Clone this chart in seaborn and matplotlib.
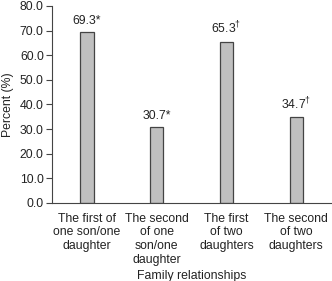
import matplotlib
matplotlib.use("Agg")
import matplotlib.pyplot as plt
import seaborn as sns
import pandas as pd

# data
categories = [
    "The first of\none son/one\ndaughter",
    "The second\nof one\nson/one\ndaughter",
    "The first\nof two\ndaughters",
    "The second\nof two\ndaughters",
]
percents = [69.3, 30.7, 65.3, 34.7]
marks = ["*", "*", r"$^{\dagger}$", r"$^{\dagger}$"]
y_ticks = [0, 10, 20, 30, 40, 50, 60, 70, 80]

sns.set_style("white")
plt.rcParams["font.family"] = ["Liberation Sans", "DejaVu Sans"]
plt.rcParams["mathtext.fontset"] = "custom"
plt.rcParams["mathtext.rm"] = "Liberation Sans"

df = pd.DataFrame({"relationship": categories, "percent": percents})

fig = plt.figure(figsize=(3.32, 2.81), dpi=100)
ax = fig.add_axes([0.157, 0.278, 0.840, 0.701])

sns.barplot(data=df, x="relationship", y="percent", color="#c0c0c0",
            saturation=1, width=0.19, edgecolor="#444444", linewidth=0.9, ax=ax)

labels = [f"{v:.1f}{m}" for v, m in zip(percents, marks)]
ax.bar_label(ax.containers[0], labels=labels, padding=4, fontsize=8.8, color="#222222")

ax.set_xlim(-0.5, 3.5)
ax.set_ylim(0, 80)
ax.set_yticks(y_ticks)
ax.set_yticklabels([f"{t:.1f}" for t in y_ticks], fontsize=8.8, color="#222222")
ax.set_xticks(range(len(categories)))
ax.set_xticklabels(categories, fontsize=8.8, color="#222222", linespacing=1.2)
ax.set_xticks([0.5, 1.5, 2.5, 3.5], minor=True)
ax.tick_params(axis="x", which="major", length=0, pad=7)
ax.tick_params(axis="x", which="minor", length=4, width=0.8, color="#444444", direction="out")
ax.tick_params(axis="y", length=4, width=0.8, color="#444444", direction="out", left=True, pad=2)

for s in ["top", "right"]:
    ax.spines[s].set_visible(False)
for s in ["left", "bottom"]:
    ax.spines[s].set_color("#444444")
    ax.spines[s].set_linewidth(0.8)

ax.set_ylabel("Percent (%)", fontsize=8.8, color="#222222", labelpad=4)
ax.set_xlabel("Family relationships", fontsize=8.8, color="#222222", labelpad=3)

fig.savefig("out.png", dpi=100)
